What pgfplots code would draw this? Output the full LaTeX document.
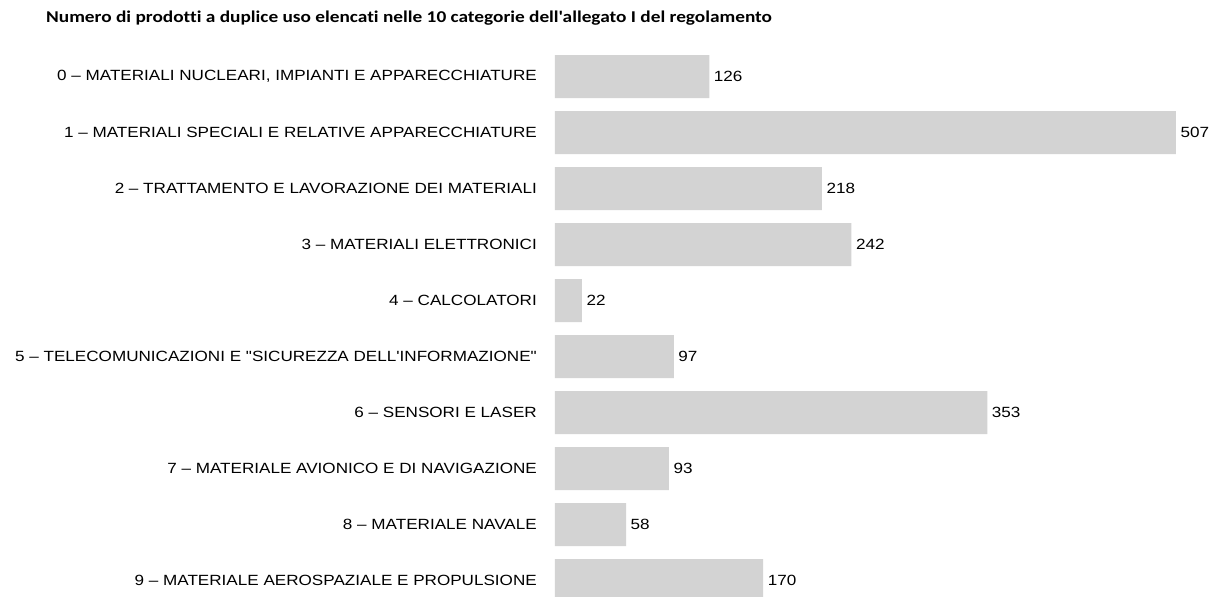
\documentclass[border=0pt]{standalone}
\usepackage{pgfplots}
\pgfplotsset{compat=1.18}
\usepackage{fontspec}
\setmainfont{Liberation Sans}[FakeStretch=1.155, Ligatures=TeXOff]
\newfontfamily\titlefont{Carlito}[FakeStretch=1.17, Ligatures={NoCommon}]
\definecolor{bargray}{RGB}{211,211,211}
\begin{document}
\begin{tikzpicture}[x=1pt,y=1pt]
\path[use as bounding box] (0,0) rectangle (1211,597);
\node[anchor=west, inner sep=0pt, font=\titlefont\bfseries\fontsize{16.5}{18}\selectfont] at (46,579) {Numero di prodotti a duplice uso elencati nelle 10 categorie dell'allegato I del regolamento};
\begin{axis}[
  at={(555pt,-11.5pt)}, anchor=south west,
  width=649pt, height=560pt, scale only axis,
  xmin=0, xmax=530, ymin=-0.5, ymax=9.5, y dir=reverse,
  xbar, bar width=43pt, bar shift=0pt,
  axis line style={draw=none}, xtick=\empty, ytick={0,...,9}, major tick length=0pt,
  /pgf/number format/assume math mode=true,
  yticklabels={{0 – MATERIALI NUCLEARI, IMPIANTI E APPARECCHIATURE},
    {1 – MATERIALI SPECIALI E RELATIVE APPARECCHIATURE},
    {2 – TRATTAMENTO E LAVORAZIONE DEI MATERIALI},
    {3 – MATERIALI ELETTRONICI},
    {4 – CALCOLATORI},
    {5 – TELECOMUNICAZIONI E "SICUREZZA DELL'INFORMAZIONE"},
    {6 – SENSORI E LASER},
    {7 – MATERIALE AVIONICO E DI NAVIGAZIONE},
    {8 – MATERIALE NAVALE},
    {9 – MATERIALE AEROSPAZIALE E PROPULSIONE}},
  yticklabel style={font=\fontsize{14.8}{17}\selectfont, anchor=east, inner sep=0pt, xshift=-18pt, text=black},
  nodes near coords,
  nodes near coords style={font=\fontsize{14.8}{17}\selectfont, anchor=west, inner sep=0pt, xshift=4.5pt, text=black},
  clip=false,
]
\addplot[fill=bargray, draw=none] coordinates {(126,0) (507,1) (218,2) (242,3) (22,4) (97,5) (353,6) (93,7) (58,8) (170,9)};
\end{axis}
\end{tikzpicture}
\end{document}
